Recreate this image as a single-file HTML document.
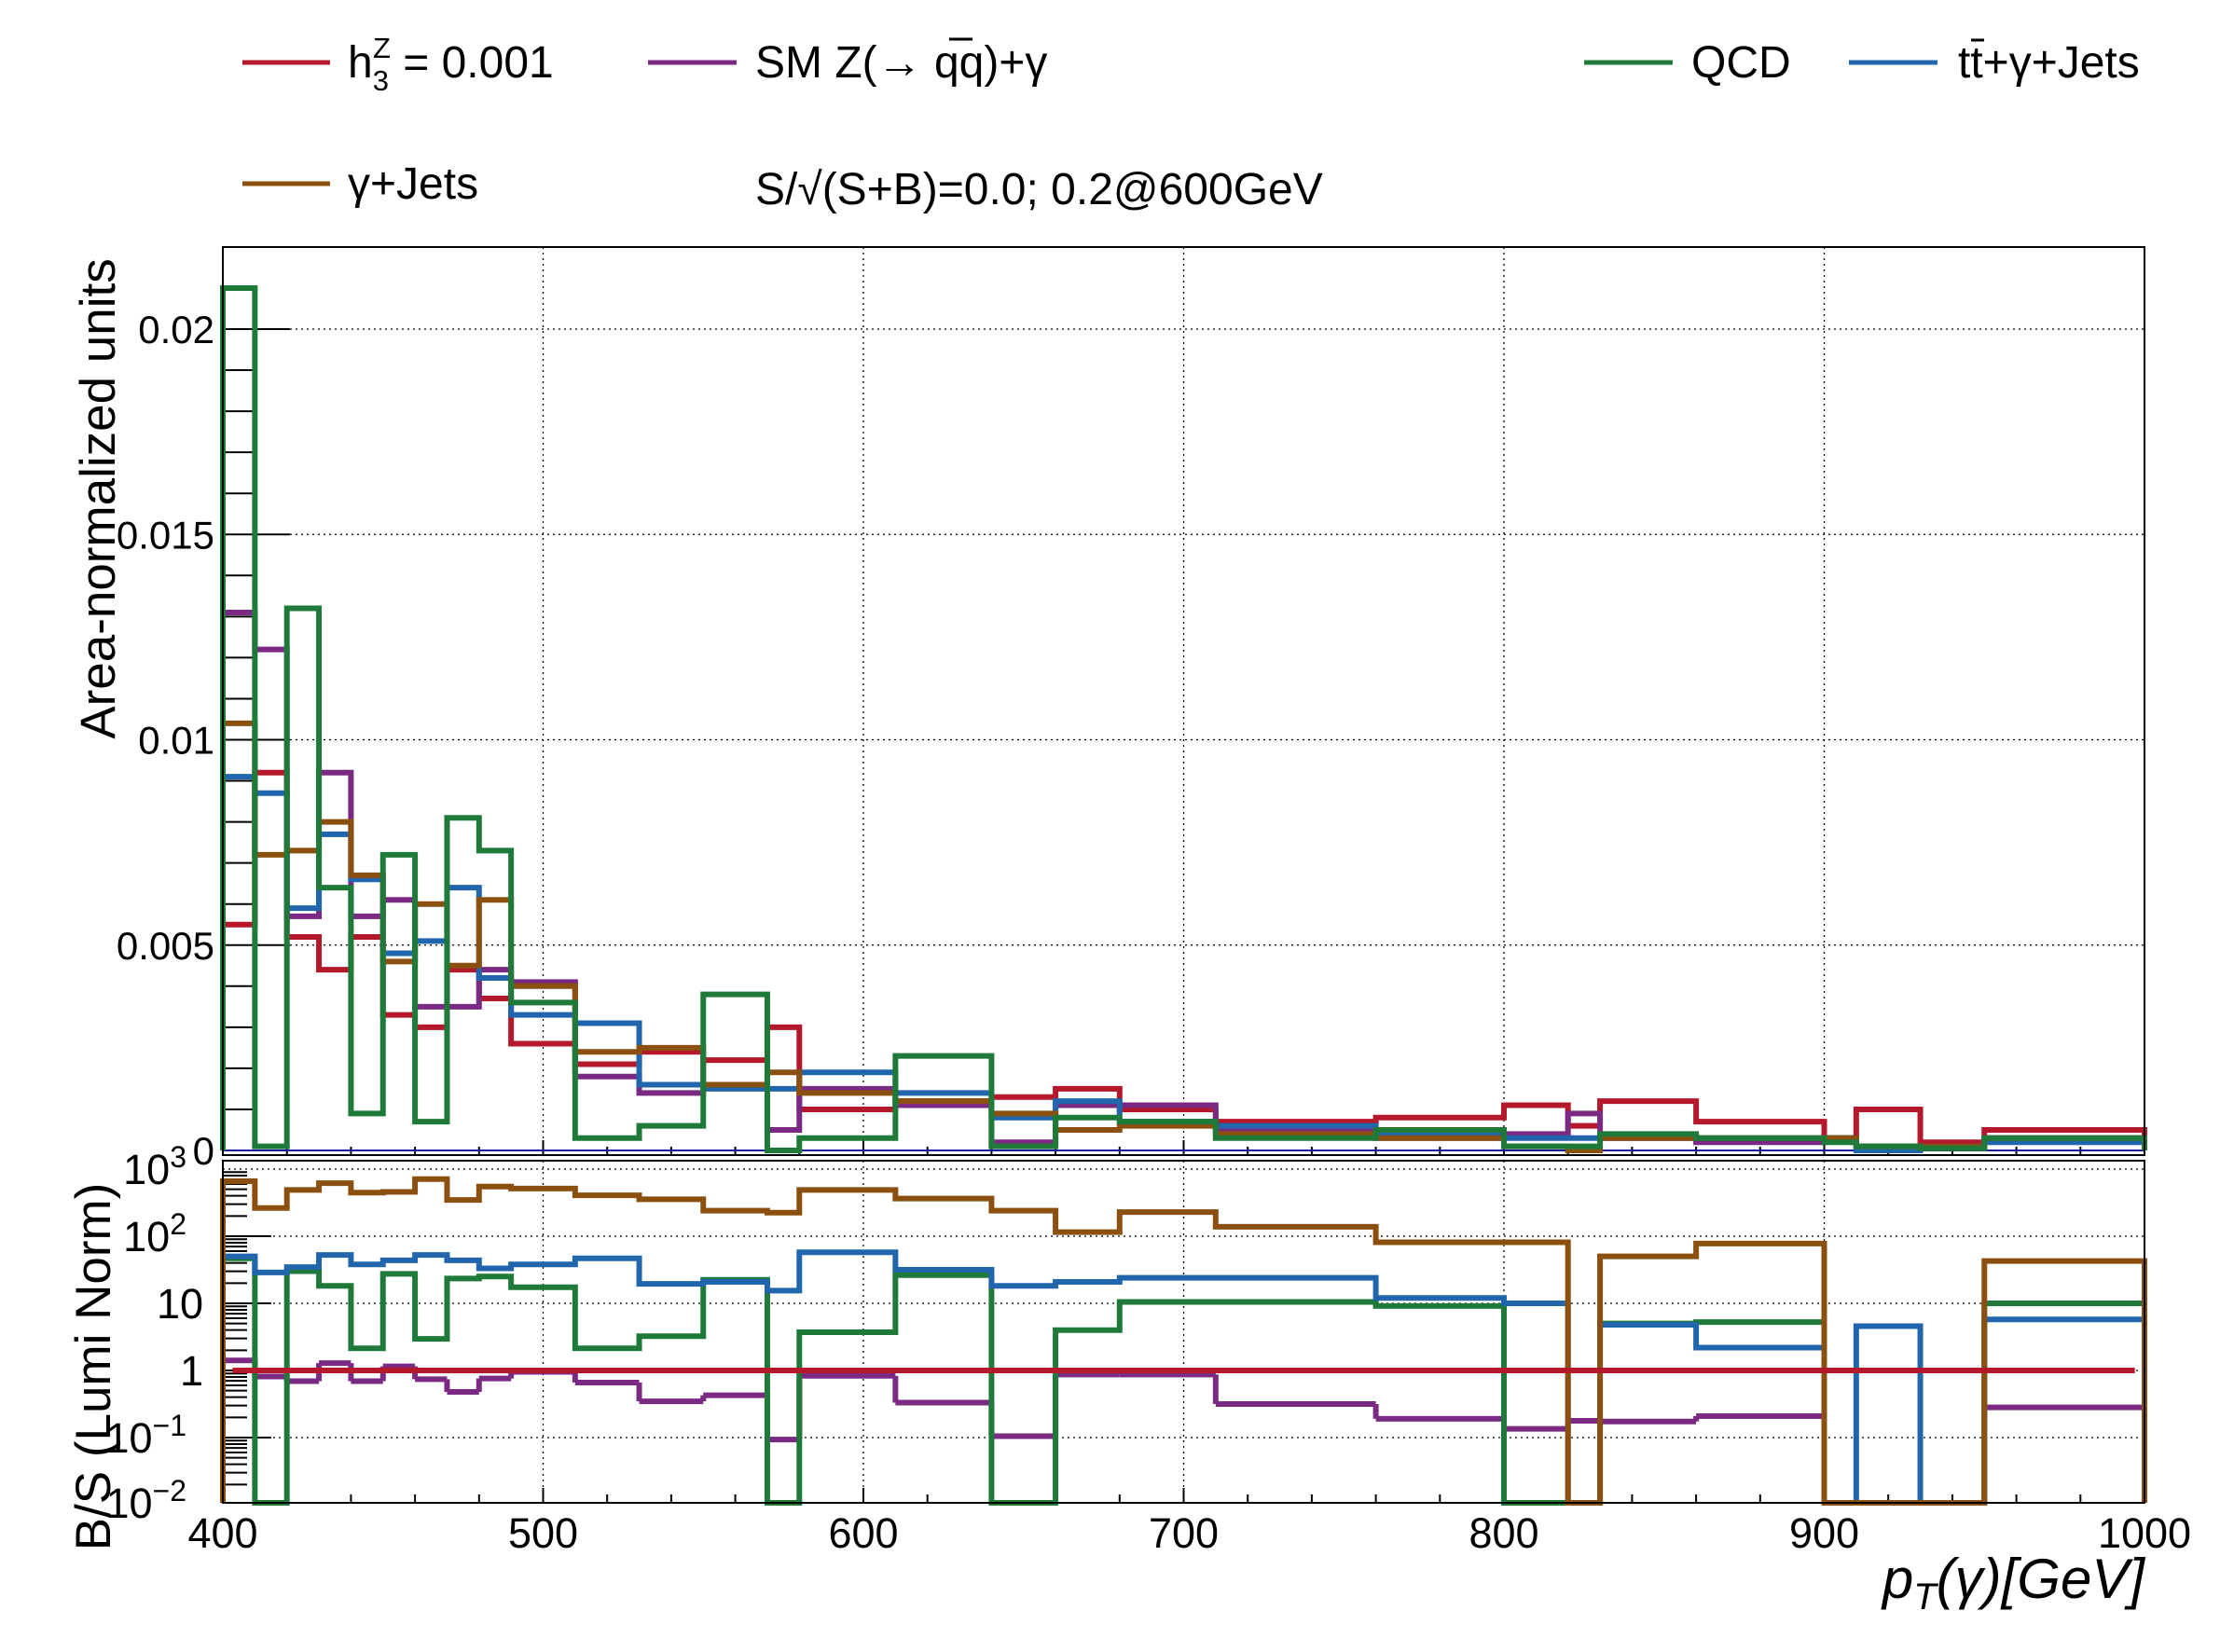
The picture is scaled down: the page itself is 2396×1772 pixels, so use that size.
<!DOCTYPE html>
<html><head><meta charset="utf-8"><style>
html,body{margin:0;padding:0;background:#fff;}
svg{display:block;font-family:"Liberation Sans",sans-serif;}
</style></head><body>
<svg id="chart" width="2396" height="1772" viewBox="0 0 2396 1772" xmlns="http://www.w3.org/2000/svg">
<rect x="0" y="0" width="2396" height="1772" fill="#fff"/>
<g id="legend" font-size="48">
  <g><line x1="260" y1="67" x2="354" y2="67" stroke="#b5172b" stroke-width="5"/><text x="373" y="83">h<tspan font-size="31" dy="14">3</tspan><tspan font-size="31" dx="-17" dy="-35">Z</tspan><tspan dy="21"> = 0.001</tspan></text></g>
  <g><line x1="695" y1="67" x2="790" y2="67" stroke="#7b2a83" stroke-width="5"/><text x="810" y="83">SM Z(→ qq)+γ</text><line x1="1018" y1="42" x2="1043" y2="42" stroke="#000" stroke-width="3"/></g>
  <g><line x1="1699" y1="67" x2="1794" y2="67" stroke="#1f7a3a" stroke-width="5"/><text x="1814" y="83">QCD</text></g>
  <g><line x1="1983" y1="67" x2="2078" y2="67" stroke="#2166ac" stroke-width="5"/><text x="2100" y="83">tt+γ+Jets</text><line x1="2114" y1="43" x2="2128" y2="43" stroke="#000" stroke-width="3"/></g>
  <g><line x1="260" y1="197" x2="354" y2="197" stroke="#8b5010" stroke-width="5"/><text x="373" y="213">γ+Jets</text></g>
  <text x="810" y="219">S/√(S+B)=0.0; 0.2@600GeV</text>
</g>
<g id="upper"></g>
<g id="lower"></g>
<text transform="translate(123,535) rotate(-90)" text-anchor="middle" font-size="53">Area-normalized units</text>
<text transform="translate(118,1466) rotate(-90)" text-anchor="middle" font-size="53">B/S (Lumi Norm)</text>
<text x="2300" y="1714" text-anchor="end" font-size="60" font-style="italic">p<tspan font-size="40" dy="12">T</tspan><tspan dy="-12">(γ)[GeV]</tspan></text>
</svg>
<script>
const edges = [400,410,420,430,440,450,460,470,480,490,510,530,550,570,580,610,640,660,680,710,760,800,820,830,860,900,910,930,950,1000];
const signalNorm = [0.0055,0.0092,0.0052,0.0044,0.0052,0.0033,0.003,0.0044,0.0037,0.0026,0.0021,0.0024,0.0022,0.003,0.001,0.0012,0.0013,0.0015,0.001,0.0007,0.0008,0.0011,0.0006,0.0012,0.0007,0.0003,0.001,0.0002,0.0005];
const smNorm = [0.0131,0.0122,0.0057,0.0092,0.0057,0.0061,0.0035,0.0035,0.0044,0.0041,0.0018,0.0014,0.0016,0.0005,0.0015,0.0011,0.0002,0.0011,0.0011,0.0005,0.0003,0.0004,0.0009,0.0003,0.0002,0.0003,0.0001,0.0001,0.0003];
const qcdNorm = [0.021,0.0001,0.0132,0.0064,0.0009,0.0072,0.0007,0.0081,0.0073,0.0036,0.0003,0.0006,0.0038,0.0,0.0003,0.0023,0.0001,0.0008,0.0007,0.0003,0.0005,0.0001,0.0001,0.0004,0.0003,0.0002,0.0001,0.00005,0.0003];
const ttgNorm = [0.0091,0.0087,0.0059,0.0077,0.0066,0.0048,0.0051,0.0064,0.0042,0.0033,0.0031,0.0016,0.0015,0.0015,0.0019,0.0014,0.0008,0.0012,0.0007,0.0006,0.0004,0.0003,0.0003,0.0003,0.0003,0.0003,0.0,0.0001,0.0002];
const gjNorm = [0.0104,0.0072,0.0073,0.008,0.0067,0.0046,0.006,0.0045,0.0061,0.004,0.0024,0.0025,0.0016,0.0019,0.0014,0.0012,0.0009,0.0005,0.0006,0.0004,0.0003,0.0001,0.0,0.0003,0.0003,0.0003,0.0001,0.0001,0.0003];
// ratio B/S as log10 exponents; null = empty bin (drawn at bottom)
const smRatioLog10 = [0.15,-0.09,-0.16,0.11,-0.16,0.06,-0.13,-0.32,-0.12,-0.02,-0.18,-0.46,-0.37,-1.03,-0.08,-0.48,-0.98,-0.06,-0.06,-0.5,-0.72,-0.87,-0.75,-0.76,-0.68,null,null,null,-0.55];
const qcdRatioLog10 = [1.67,null,1.48,1.26,0.33,1.44,0.47,1.37,1.40,1.24,0.33,0.51,1.35,null,0.57,1.42,null,0.6,1.02,1.02,0.96,null,null,0.7,0.72,null,null,null,1.0];
const ttgRatioLog10 = [1.70,1.46,1.54,1.72,1.58,1.64,1.72,1.64,1.52,1.58,1.67,1.29,1.32,1.19,1.76,1.50,1.26,1.32,1.38,1.38,1.08,1.0,null,0.68,0.34,null,0.66,null,0.76];
const gjRatioLog10 = [2.82,2.42,2.69,2.79,2.65,2.66,2.85,2.54,2.74,2.71,2.61,2.55,2.38,2.35,2.69,2.56,2.38,2.06,2.36,2.14,1.91,1.91,null,1.70,1.89,null,null,null,1.63];
const signalRatio = 1;
const upperTicks = [0, 0.005, 0.01, 0.015, 0.02];
const upperTickLabels = ["0","0.005","0.01","0.015","0.02"];
const lowerTicks = [-2,-1,0,1,2,3];
const xTicks = [400,500,600,700,800,900,1000];

const NS="http://www.w3.org/2000/svg";
const L=239,R=2300,UT=265,UB=1239,LT=1245,LB=1612;
const SW=6;
const xS=v=>L+(v-400)*(R-L)/600;
const yU=v=>1234-v*44050;
const yL=e=>{const y=1254+(3-e)*72;return Math.min(LB,Math.max(LT,y));};
function mk(tag,attrs,parent){const e=document.createElementNS(NS,tag);for(const k in attrs)e.setAttribute(k,attrs[k]);parent.appendChild(e);return e;}
const up=document.getElementById('upper'), lo=document.getElementById('lower');

function frame(g,top,bot,gridYs,name){
  for(const t of xTicks.slice(1,-1)){
    const gl=mk('line',{x1:xS(t),x2:xS(t),y1:top,y2:bot,stroke:'#000','stroke-width':1.3,'stroke-dasharray':'2,4'},g);
    
    
  }
  for(const y of gridYs){
    const gl=mk('line',{x1:L,x2:R,y1:y,y2:y,stroke:'#000','stroke-width':1.3,'stroke-dasharray':'2,4'},g);
    
    
  }
  for(let v=400;v<=1000;v+=20){
    const major=v%100===0;
    const tk=mk('line',{x1:xS(v),x2:xS(v),y1:bot,y2:bot-(major?16:9),stroke:'#000','stroke-width':2},g);
    
    
  }
}
// upper
frame(up,UT,UB,upperTicks.slice(1).map(yU),'upper');
for(let v=0;v<=0.022;v+=0.001){
  const major=Math.abs(v/0.005-Math.round(v/0.005))<1e-6;
  const tk=mk('line',{x1:L,x2:L+(major?72:37),y1:yU(v),y2:yU(v),stroke:'#000','stroke-width':2},up);
  
  
}
upperTicks.forEach((t,i)=>{
  const tx=mk('text',{x:230,y:yU(t)+15,'text-anchor':'end','font-size':42},up);
  tx.textContent=upperTickLabels[i];
  
  
});
const zl=mk('line',{x1:L,x2:R,y1:yU(0),y2:yU(0),stroke:'#1a1aa0','stroke-width':2},up);



function histPath(vals,yf,base){
  let d=`M${xS(edges[0])},${base}`;
  vals.forEach((v,i)=>{const y=yf(v);d+=` L${xS(edges[i])},${y} L${xS(edges[i+1])},${y}`;});
  d+=` L${xS(edges[edges.length-1])},${base}`;
  return d;
}
const series=[
  ['signal',signalNorm,'#b5172b'],['sm',smNorm,'#7b2a83'],['ttgamma',ttgNorm,'#2166ac'],['gammajets',gjNorm,'#8b5010'],['qcd',qcdNorm,'#1f7a3a']];
for(const [n,vals,c] of series){
  const p=mk('path',{d:histPath(vals,yU,yU(0)),fill:'none',stroke:c,'stroke-width':SW},up);
  
  
}
mk('rect',{x:L,y:UT,width:R-L,height:UB-UT,fill:'none',stroke:'#000','stroke-width':2},up);

// lower
frame(lo,LT,LB,lowerTicks.filter(e=>e>-2).map(yL),'lower');
for(let e=-2;e<3;e++){for(let k=1;k<10;k++){
  const y=yL(e+Math.log10(k)); const major=k===1;
  const tk=mk('line',{x1:L,x2:L+(major?52:26),y1:y,y2:y,stroke:'#000','stroke-width':2},lo);
  
  
}}
lowerTicks.forEach(e=>{
  const tx=mk('text',{x:e===0||e===1?218:200,y:yL(e)+16,'text-anchor':'end','font-size':45},lo);
  if(e===0)tx.textContent='1';else if(e===1)tx.textContent='10';
  else{tx.textContent='10';const s=mk('tspan',{'font-size':32,dy:-18},tx);s.textContent=(e<0?'−':'')+Math.abs(e);}
  
  
});
const ratios=[['sm',smRatioLog10,'#7b2a83'],['qcd',qcdRatioLog10,'#1f7a3a'],['ttgamma',ttgRatioLog10,'#2166ac'],['gammajets',gjRatioLog10,'#8b5010']];
for(const [n,vals,c] of ratios){
  const v2=vals.map(v=>v===null?-3:v);
  if(n==='sm'){
    vals.forEach((v,i)=>{ if(v===null)return;
      const s=mk('line',{x1:xS(edges[i]),x2:xS(edges[i+1]),y1:yL(v),y2:yL(v),stroke:c,'stroke-width':SW},lo);
      
      
      if(i>0&&vals[i-1]!==null){const v0=vals[i-1];
        const vs=mk('line',{x1:xS(edges[i]),x2:xS(edges[i]),y1:yL(v0),y2:yL(v),stroke:c,'stroke-width':SW},lo);
        
        }
    });
    continue;
  }
  const p=mk('path',{d:histPath(v2,yL,LB),fill:'none',stroke:c,'stroke-width':SW},lo);
  
  
}
const rl=mk('line',{x1:xS(403),x2:xS(997),y1:yL(Math.log10(signalRatio)),y2:yL(Math.log10(signalRatio)),stroke:'#b5172b','stroke-width':SW},lo);


mk('rect',{x:L,y:LT,width:R-L,height:LB-LT,fill:'none',stroke:'#000','stroke-width':2},lo);
xTicks.forEach(t=>{
  const tx=mk('text',{x:xS(t),y:1660,'text-anchor':'middle','font-size':45},lo);
  tx.textContent=String(t);
  
  
});
</script>
</body></html>
